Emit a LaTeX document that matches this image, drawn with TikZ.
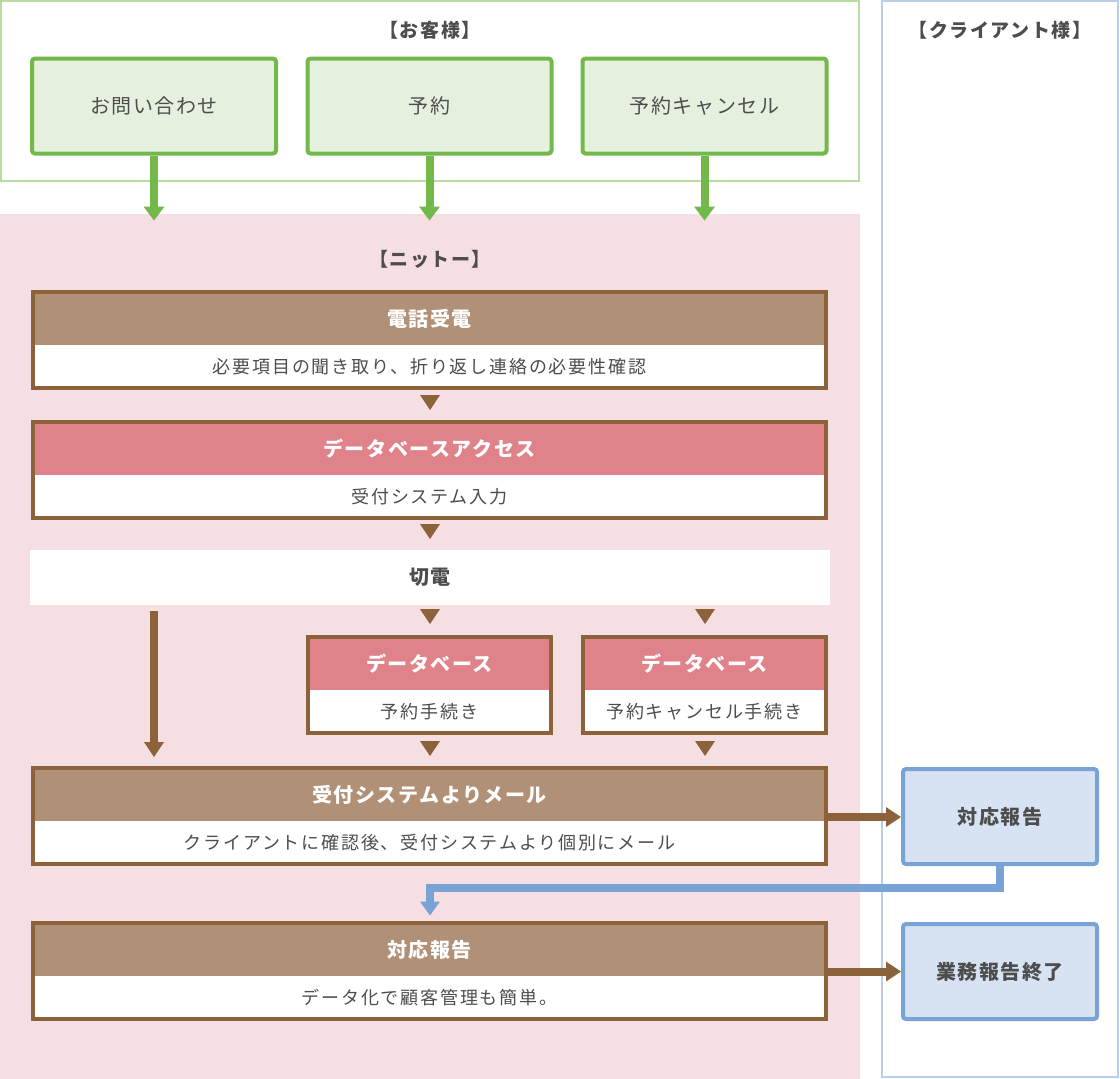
\documentclass[tikz,border=0pt]{standalone}
\usepackage{fontspec}
\setmainfont{Noto Sans CJK JP}
\newfontfamily\jpls[LetterSpace=8]{Noto Sans CJK JP}
\newfontfamily\jpsub[LetterSpace=10]{Noto Sans CJK JP}
\usetikzlibrary{arrows.meta,calc}
\definecolor{greenb}{HTML}{72B84B}
\definecolor{greenf}{HTML}{E6F0DF}
\definecolor{greenframe}{HTML}{B7DBA3}
\definecolor{pinkbg}{HTML}{F6DFE2}
\definecolor{brownc}{HTML}{8B6239}
\definecolor{brownhdr}{HTML}{B09076}
\definecolor{pinkhdr}{HTML}{E0828A}
\definecolor{bluef}{HTML}{D7E3F2}
\definecolor{blueb}{HTML}{79A3D4}
\definecolor{blueframe}{HTML}{B9CFE8}
\definecolor{textgray}{HTML}{4D4D4D}
\newcommand{\downtri}[1]{\fill[brownc] ($#1+(-10,-7.5)$) -- ($#1+(10,-7.5)$) -- ($#1+(0,7.5)$) -- cycle;}
\begin{document}
\begin{tikzpicture}[x=1pt,y=-1pt,
  titlet/.style={text=textgray,font=\jpls\bfseries\fontsize{19}{23}\selectfont,inner sep=0pt},
  gbox/.style={draw=greenb,fill=greenf,line width=4pt,rounded corners=3pt,minimum width=244pt,minimum height=95pt,inner sep=0pt,text=textgray,font=\jpls\fontsize{20}{24}\selectfont},
  hdr/.style={fill=#1,minimum height=53pt,inner sep=0pt,text=white,font=\jpls\bfseries\fontsize{20}{24}\selectfont},
  bodyt/.style={fill=white,minimum height=43pt,inner sep=0pt,text=textgray,font=\jpsub\fontsize{18}{22}\selectfont},
  wide/.style={minimum width=793pt},
  narrow/.style={minimum width=243pt},
  boxborder/.style={draw=brownc,line width=4pt},
  cbox/.style={draw=blueb,fill=bluef,line width=4pt,rounded corners=3pt,minimum width=194pt,minimum height=95pt,inner sep=0pt,text=textgray,font=\jpls\bfseries\fontsize{20}{24}\selectfont},
  garrow/.style={draw=greenb,line width=8pt,-{Triangle[width=21pt,length=14pt,line width=0pt]}},
  barrow/.style={draw=brownc,line width=8pt,-{Triangle[width=20pt,length=15pt,line width=0pt]}},
  bluearrow/.style={draw=blueb,line width=8pt,line join=miter,-{Triangle[width=20pt,length=14pt,line width=0pt]}}
]
\useasboundingbox (0,0) rectangle (1120,1079);
% backgrounds
\fill[pinkbg] (0,213.5) rectangle (860,1079);
\draw[greenframe,line width=2pt] (1,1) rectangle (859,181);
\draw[blueframe,line width=2pt] (881.5,1) rectangle (1118,1077);
% titles
\node[titlet] (tcust) at (430,30) {【お客様】};
\node[titlet] (tnit) at (430,259) {【ニットー】};
\node[titlet] (tcli) at (1000,30) {【クライアント様】};
% customer boxes
\node[gbox] (g1) at (154,106) {お問い合わせ};
\node[gbox] (g2) at (429.5,106) {予約};
\node[gbox] (g3) at (704.5,106) {予約キャンセル};
\coordinate (gt1) at (154,220.5);
\coordinate (gt2) at (429.5,220.5);
\coordinate (gt3) at (704.5,220.5);
\draw[garrow] (g1.south) -- (gt1);
\draw[garrow] (g2.south) -- (gt2);
\draw[garrow] (g3.south) -- (gt3);
% box 1
\node[hdr=brownhdr,wide] (h1) at (429.5,318.5) {電話受電};
\node[bodyt,wide] (b1) at (429.5,366.5) {必要項目の聞き取り、折り返し連絡の必要性確認};
\draw[boxborder] (h1.north west) rectangle (b1.south east);
\coordinate (t1) at (430,402.5);
\downtri{(t1)}
% box 2
\node[hdr=pinkhdr,wide] (h2) at (429.5,448.5) {データベースアクセス};
\node[bodyt,wide] (b2) at (429.5,496.5) {受付システム入力};
\draw[boxborder] (h2.north west) rectangle (b2.south east);
\coordinate (t2) at (430,531.5);
\downtri{(t2)}
% cut
\node[fill=white,minimum width=800pt,minimum height=55pt,inner sep=0pt,text=textgray,font=\jpls\bfseries\fontsize{20}{24}\selectfont] (cut) at (430,577.5) {切電};
\coordinate (t3) at (430,616.5);
\coordinate (t4) at (705,616.5);
\downtri{(t3)}
\downtri{(t4)}
\coordinate (la) at (154,611);
\coordinate (lb) at (154,757);
\draw[barrow] (la) -- (lb);
% box 3 and 4
\node[hdr=pinkhdr,narrow] (h3) at (429.5,663.5) {データベース};
\node[bodyt,narrow] (b3) at (429.5,711.5) {予約手続き};
\draw[boxborder] (h3.north west) rectangle (b3.south east);
\node[hdr=pinkhdr,narrow] (h4) at (704.5,663.5) {データベース};
\node[bodyt,narrow] (b4) at (704.5,711.5) {予約キャンセル手続き};
\draw[boxborder] (h4.north west) rectangle (b4.south east);
\coordinate (t5) at (430,748.5);
\coordinate (t6) at (705,748.5);
\downtri{(t5)}
\downtri{(t6)}
% box 5
\node[hdr=brownhdr,wide] (h5) at (429.5,794.5) {受付システムよりメール};
\node[bodyt,wide] (b5) at (429.5,842.5) {クライアントに確認後、受付システムより個別にメール};
\draw[boxborder] (h5.north west) rectangle (b5.south east);
% box 6
\node[hdr=brownhdr,wide] (h6) at (429.5,949.5) {対応報告};
\node[bodyt,wide] (b6) at (429.5,997.5) {データ化で顧客管理も簡単。};
\draw[boxborder] (h6.north west) rectangle (b6.south east);
% client boxes
\node[cbox] (c1) at (1000,816.5) {対応報告};
\node[cbox] (c2) at (1000,971.5) {業務報告終了};
\coordinate (a5) at (828,817);
\coordinate (a6) at (828,971.5);
\draw[barrow] (a5) -- (c1.west |- a5);
\draw[barrow] (a6) -- (c2.west |- a6);
\coordinate (tb) at (430,915.5);
\draw[bluearrow] (c1.south) -- ++(0,21.5) -| (tb);
\end{tikzpicture}
\end{document}
